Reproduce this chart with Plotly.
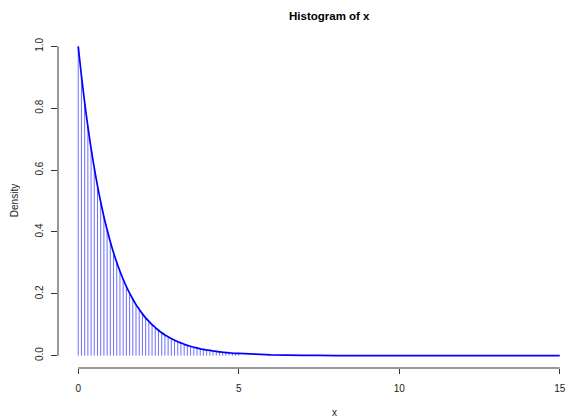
import plotly.graph_objects as go

# Density values (vertical lines every 0.1 from 0 to 5)
line_x = [round(0.1 * i, 1) for i in range(51)]
line_density = [1.000, 0.905, 0.819, 0.741, 0.670, 0.607, 0.549, 0.497, 0.449, 0.407,
                0.368, 0.333, 0.301, 0.273, 0.247, 0.223, 0.202, 0.183, 0.165, 0.150,
                0.135, 0.122, 0.111, 0.100, 0.091, 0.082, 0.074, 0.067, 0.061, 0.055,
                0.050, 0.045, 0.041, 0.037, 0.033, 0.030, 0.027, 0.025, 0.022, 0.020,
                0.018, 0.017, 0.015, 0.014, 0.012, 0.011, 0.010, 0.009, 0.008, 0.007,
                0.007]
# curve tail beyond 5
tail_x = [6, 7, 8, 9, 10, 12, 15]
tail_density = [0.0025, 0.0009, 0.0003, 0.0001, 0.0, 0.0, 0.0]

x_ticks = [0, 5, 10, 15]
y_ticks = [0.0, 0.2, 0.4, 0.6, 0.8, 1.0]
y_ticklabels = ["0.0", "0.2", "0.4", "0.6", "0.8", "1.0"]

title_text = "Histogram of x"
x_label = "x"
y_label = "Density"

W, H = 566, 418
ML, MR, MT, MB = 58, 0, 34, 50
PW, PH = W - ML - MR, H - MT - MB

def px(xpix):
    return (xpix - ML) / PW

def py(ypix):
    return (H - MB - ypix) / PH

FONT = "Liberation Sans, Arial, Helvetica, sans-serif"

# vertical lines
vx, vy = [], []
for xv, dv in zip(line_x, line_density):
    vx += [xv, xv, None]
    vy += [0, dv, None]

fig = go.Figure()
fig.add_trace(go.Scatter(x=vx, y=vy, mode="lines",
                         line=dict(color="rgb(110,110,255)", width=1),
                         hoverinfo="skip", showlegend=False))
fig.add_trace(go.Scatter(x=line_x + tail_x, y=line_density + tail_density, mode="lines",
                         line=dict(color="rgb(0,0,255)", width=1.7, shape="spline", smoothing=0.6),
                         showlegend=False))

fig.update_layout(
    width=W, height=H,
    margin=dict(l=ML, r=MR, t=MT, b=MB, pad=0),
    paper_bgcolor="white", plot_bgcolor="white",
    font=dict(family=FONT, size=10, color="black"),
    xaxis=dict(range=[-0.63, 15.132], tickvals=x_ticks, ticktext=[str(t) for t in x_ticks],
               showgrid=False, zeroline=False, showline=False,
               ticks="outside", ticklen=5, tickwidth=1, tickcolor="#333",
               ticklabelstandoff=6, ticklabeloverflow="allow",
               tickfont=dict(size=10, color="#222")),
    yaxis=dict(range=[-0.04, 1.04], tickvals=y_ticks, ticktext=y_ticklabels,
               showgrid=False, zeroline=False, showline=False,
               ticks="outside", ticklen=6, tickwidth=1, tickcolor="#333",
               tickangle=-90, ticklabelstandoff=4, tickfont=dict(size=10, color="#222")),
    shapes=[
        dict(type="line", xref="x", yref="paper", x0=x_ticks[0], x1=x_ticks[-1], y0=0, y1=0,
             line=dict(color="#333", width=1)),
        dict(type="line", xref="paper", yref="y", x0=0, x1=0, y0=y_ticks[0], y1=y_ticks[-1],
             line=dict(color="#333", width=1)),
    ],
    annotations=[
        dict(text="<b>" + title_text + "</b>", xref="paper", yref="paper",
             x=px(331), y=py(16), xanchor="center", yanchor="middle", showarrow=False,
             font=dict(size=11.5, family=FONT, color="black")),
        dict(text=x_label, xref="paper", yref="paper",
             x=px(336), y=py(412), xanchor="center", yanchor="middle", showarrow=False,
             font=dict(size=10, family=FONT, color="#222")),
        dict(text=y_label, xref="paper", yref="paper", textangle=-90,
             x=px(14), y=py(201), xanchor="center", yanchor="middle", showarrow=False,
             font=dict(size=10, family=FONT, color="#222")),
    ],
)

fig.write_html("out.html", config={"displayModeBar": False},
               post_script="document.body.style.margin='0';document.body.style.overflow='hidden';")
